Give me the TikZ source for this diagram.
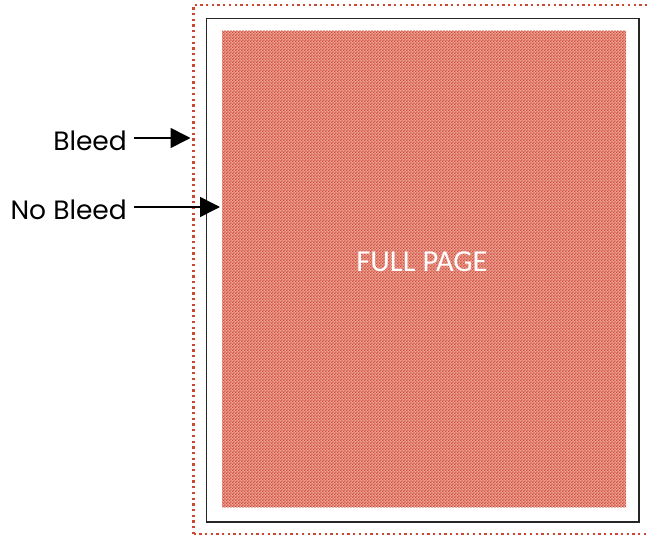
\documentclass[tikz,border=0pt]{standalone}
\usepackage{fontspec}
\setmainfont{Poppins}
\newfontfamily\pagefont{Carlito}
\usetikzlibrary{arrows.meta,patterns}
\definecolor{bleedred}{RGB}{204,70,50}
\definecolor{pinklight}{RGB}{238,165,152}
\definecolor{pinkdark}{RGB}{206,76,58}
\pgfdeclarepatternformonly{checks}{\pgfqpoint{0pt}{0pt}}{\pgfqpoint{3.2pt}{3.2pt}}{\pgfqpoint{3.2pt}{3.2pt}}{%
  \pgfpathrectangle{\pgfqpoint{0pt}{0pt}}{\pgfqpoint{1.6pt}{1.6pt}}%
  \pgfpathrectangle{\pgfqpoint{1.6pt}{1.6pt}}{\pgfqpoint{1.6pt}{1.6pt}}%
  \pgfusepath{fill}}
\tikzset{
  label/.style={font=\fontsize{26.5}{30}\selectfont, inner sep=0pt, text=black},
  pointer/.style={line width=1.6pt, -{Triangle[length=20pt,width=20pt]}},
  bleedline/.style={draw=bleedred, line width=2.3pt, dash pattern=on 2.3pt off 3.4pt},
  trimline/.style={draw=black!85, line width=1.3pt},
  fullpage/.style={fill=pinklight, postaction={pattern=checks, pattern color=pinkdark}}
}
\begin{document}
\begin{tikzpicture}[x=1pt,y=-1pt]
\useasboundingbox (0,0) rectangle (650,535);
\fill[white] (0,0) rectangle (650,535);
% bleed boundary
\draw[bleedline] (193.5,534) -- (193.5,5) -- (660,5);
\draw[bleedline] (193.5,534) -- (660,534);
% trim rectangle
\draw[trimline] (206.5,18.5) rectangle (639,522);
% full page area
\path[fullpage] (222,31) rectangle (626,507);
\node[font=\pagefont\fontsize{30.5}{34}\selectfont, text=white, inner sep=0pt] (fp) at (422,262) {FULL PAGE};
% labels
\node[label, anchor=base east] (bleed) at (127,150.5) {Bleed};
\node[label, anchor=base east] (nobleed) at (127,219) {No Bleed};
\coordinate (bleedtip) at (190.5,138);
\coordinate (nobleedtip) at (220,207);
\draw[pointer] (bleed.east |- bleedtip) ++(7,0) coordinate (bs) -- (bleedtip);
\draw[pointer] (nobleed.east |- nobleedtip) ++(7,0) coordinate (ns) -- (nobleedtip);
\end{tikzpicture}
\end{document}
